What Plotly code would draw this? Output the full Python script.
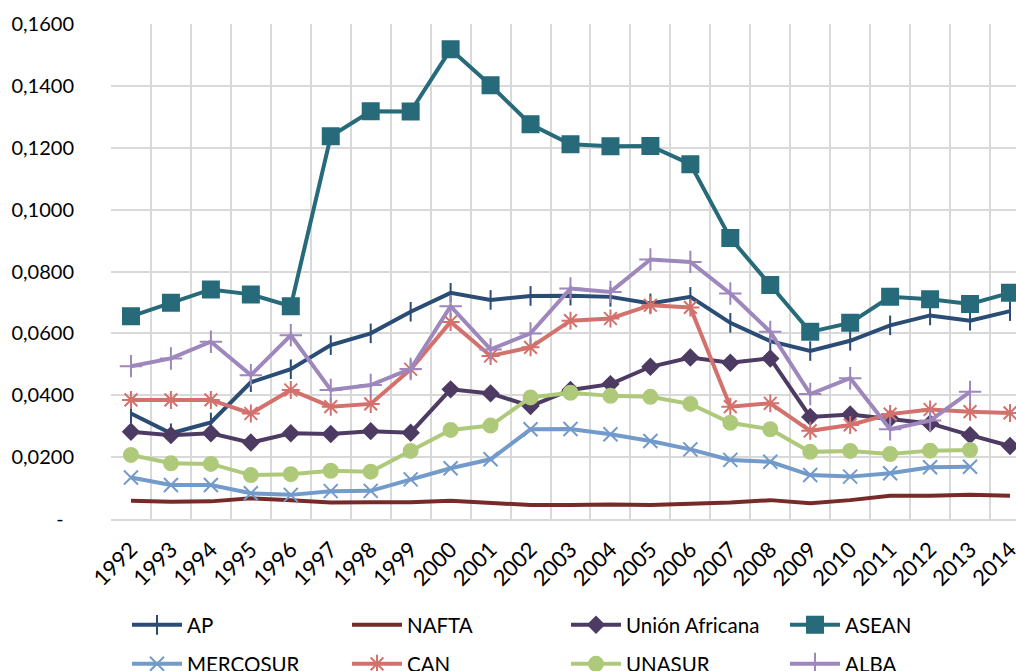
import plotly.graph_objects as go

years = [str(y) for y in range(1992, 2015)]

ap = [0.0341, 0.0277, 0.0312, 0.0442, 0.0484, 0.0562, 0.0600, 0.0670, 0.0731, 0.0708,
      0.0721, 0.0722, 0.0718, 0.0697, 0.0718, 0.0634, 0.0575, 0.0543, 0.0576, 0.0626,
      0.0658, 0.0641, 0.0672]
nafta = [0.0059, 0.0056, 0.0057, 0.0067, 0.0061, 0.0053, 0.0054, 0.0054, 0.0059, 0.0051,
         0.0045, 0.0045, 0.0047, 0.0045, 0.0048, 0.0053, 0.0061, 0.0051, 0.0061, 0.0075,
         0.0075, 0.0078, 0.0075]
union_africana = [0.0282, 0.0271, 0.0277, 0.0247, 0.0277, 0.0275, 0.0284, 0.0279, 0.0419, 0.0406,
                  0.0365, 0.0417, 0.0436, 0.0492, 0.0522, 0.0505, 0.0519, 0.0330, 0.0338, 0.0325,
                  0.0309, 0.0271, 0.0236]
asean = [0.0655, 0.0699, 0.0742, 0.0726, 0.0688, 0.1237, 0.1318, 0.1317, 0.1518, 0.1402,
         0.1276, 0.1211, 0.1205, 0.1206, 0.1147, 0.0908, 0.0756, 0.0605, 0.0634, 0.0718,
         0.0710, 0.0695, 0.0731]
mercosur = [0.0134, 0.0110, 0.0110, 0.0083, 0.0078, 0.0090, 0.0091, 0.0128, 0.0164, 0.0193,
            0.0290, 0.0291, 0.0274, 0.0252, 0.0225, 0.0191, 0.0185, 0.0142, 0.0137, 0.0148,
            0.0167, 0.0169, None]
can = [0.0385, 0.0385, 0.0385, 0.0341, 0.0417, 0.0363, 0.0372, 0.0484, 0.0637, 0.0527,
       0.0555, 0.0641, 0.0648, 0.0691, 0.0684, 0.0363, 0.0374, 0.0285, 0.0304, 0.0339,
       0.0354, 0.0347, 0.0343]
unasur = [0.0207, 0.0180, 0.0178, 0.0142, 0.0145, 0.0156, 0.0153, 0.0220, 0.0288, 0.0302,
          0.0393, 0.0408, 0.0398, 0.0395, 0.0372, 0.0311, 0.0290, 0.0217, 0.0220, 0.0210,
          0.0221, 0.0223, None]
alba = [0.0494, 0.0519, 0.0573, 0.0465, 0.0594, 0.0417, 0.0433, 0.0485, 0.0688, 0.0548,
        0.0600, 0.0745, 0.0734, 0.0839, 0.0831, 0.0729, 0.0605, 0.0404, 0.0455, 0.0290,
        0.0318, 0.0411, None]

y_ticks = [0, 0.02, 0.04, 0.06, 0.08, 0.10, 0.12, 0.14, 0.16]
y_ticktext = ["-\u00a0\u00a0", "0,0200", "0,0400", "0,0600", "0,0800",
              "0,1000", "0,1200", "0,1400", "0,1600"]

FONT = "Lato, 'Open Sans', sans-serif"
x = list(range(len(years)))

# name, values, colour, marker symbol, marker size
series = [
    ("AP", ap, "#2B4C75", "line-ns", 14),
    ("NAFTA", nafta, "#772B29", None, 0),
    ("Unión Africana", union_africana, "#4D3B63", "diamond", 12),
    ("ASEAN", asean, "#276B7B", "square", 16),
    ("MERCOSUR", mercosur, "#729ACB", "x-thin", 14),
    ("CAN", can, "#D3716D", "asterisk", 15),
    ("UNASUR", unasur, "#AFC97A", "circle", 14),
    ("ALBA", alba, "#9D87BD", "cross-thin", 16),
]

# one legend box per entry, laid out as a 4 x 2 grid below the plot
legend_cols = [127, 347, 566, 785]
legend_rows = [625, 664]

fig = go.Figure()
layout_legends = {}
for i, (name, vals, col, sym, size) in enumerate(series):
    leg = "legend" if i == 0 else f"legend{i + 1}"
    if sym is None:
        fig.add_trace(go.Scatter(x=x, y=vals, name=name, mode="lines",
                                 line=dict(color=col, width=4), legend=leg))
    else:
        fig.add_trace(go.Scatter(
            x=x, y=vals, name=name, mode="lines+markers",
            line=dict(color=col, width=4),
            marker=dict(symbol=sym, size=size, color=col,
                        line=dict(color=col, width=2)),
            legend=leg))
    layout_legends[leg] = dict(
        orientation="h", xref="container", yref="container",
        x=legend_cols[i % 4] / 1016, y=1 - legend_rows[i // 4] / 671,
        xanchor="left", yanchor="middle", itemwidth=50,
        font=dict(family=FONT, size=20.5, color="#000000"),
        bgcolor="rgba(0,0,0,0)")

fig.update_layout(
    width=1016, height=671,
    margin=dict(l=111, r=0, t=24, b=152),
    paper_bgcolor="white", plot_bgcolor="white",
    font=dict(family=FONT, size=20, color="#000000"),
    showlegend=True,
    xaxis=dict(
        range=[-0.5, 22.15], tickmode="array", tickvals=x, ticktext=years,
        tickangle=-45, showgrid=False, zeroline=False, ticks="",
        ticklabeloverflow="allow", ticklabelstandoff=7,
        showline=True, linecolor="#D9D9D9", linewidth=2,
        tickfont=dict(family=FONT, size=22, color="#000000"),
        minor=dict(tick0=0.5, dtick=1, showgrid=True, gridcolor="#D9D9D9", gridwidth=2),
        automargin=False,
    ),
    yaxis=dict(
        range=[0, 0.16], tickmode="array", tickvals=y_ticks, ticktext=y_ticktext,
        showgrid=True, gridcolor="#D9D9D9", gridwidth=2, zeroline=False,
        ticks="", ticklabelstandoff=36, showline=False,
        tickfont=dict(family=FONT, size=20, color="#000000"),
        automargin=False,
    ),
    **layout_legends,
)

fig.write_html("out.html")
